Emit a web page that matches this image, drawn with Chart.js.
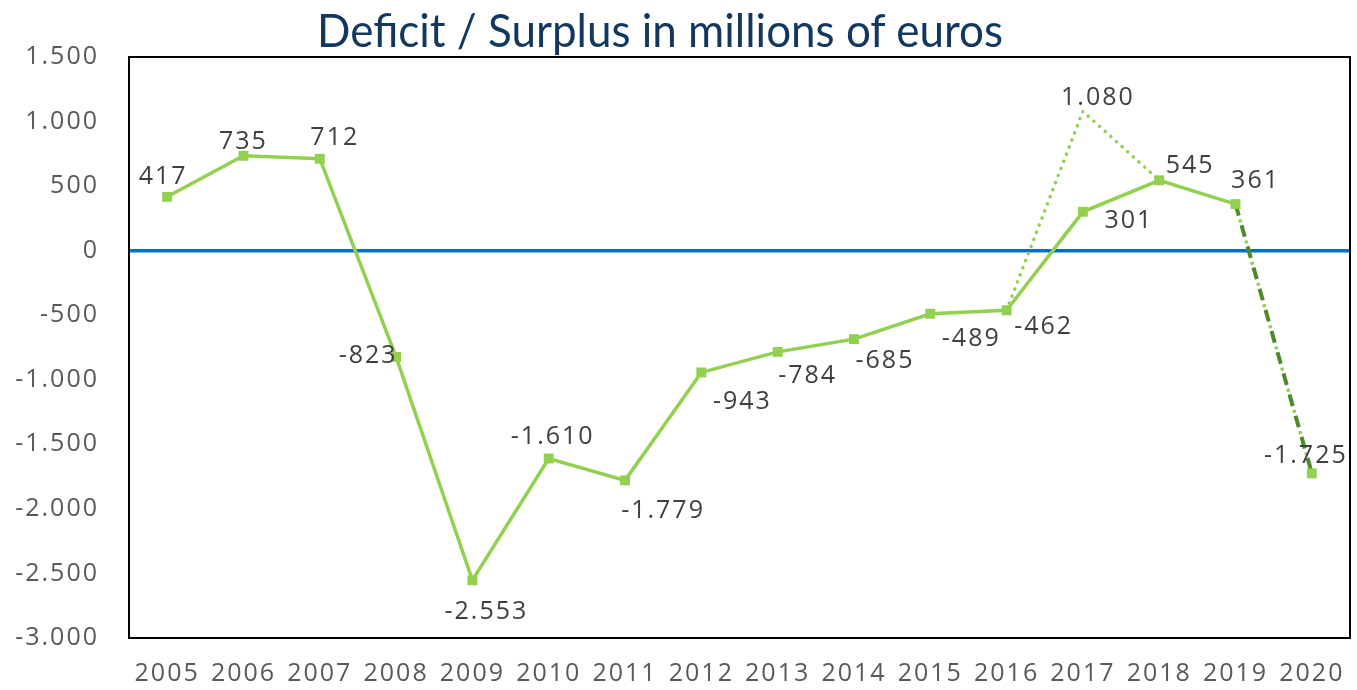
<!DOCTYPE html>
<html>
<head>
<meta charset="utf-8">
<script src="https://cdn.jsdelivr.net/npm/chart.js@4/dist/chart.umd.min.js"></script>
<style>
  html, body { margin: 0; padding: 0; background: #ffffff; }
  #wrap { position: relative; width: 1357px; height: 690px; }
  #title {
    position: absolute; left: 0; top: 2px; white-space: nowrap;
    font-family: Lato, "Open Sans", sans-serif; font-size: 46px; color: #13385F;
    transform-origin: 0 0;
  }
  canvas { position: absolute; left: 0; top: 0; }
</style>
</head>
<body>
<div id="wrap">
  <canvas id="chart" width="1357" height="690"></canvas>
  <div id="title">Deficit / Surplus in millions of euros</div>
</div>
<script>
// Yearly budget balance, millions of euros
const years = ['2005','2006','2007','2008','2009','2010','2011','2012','2013','2014','2015','2016','2017','2018','2019','2020'];
const balance  = [417, 735, 712, -823, -2553, -1610, -1779, -943, -784, -685, -489, -462, 301, 545, 361, null];
const estimate = [null, null, null, null, null, null, null, null, null, null, null, -462, 1080, 545, null, null];
const forecast = [null, null, null, null, null, null, null, null, null, null, null, null, null, null, 361, -1725];

const yMin = -3000, yMax = 1500, yStep = 500;

// where each value label sits relative to its point (dx, dy in px)
const balanceLabelOffsets = [[-4,-20],[0,-14],[15,-21],[-28,-1],[14,32],[4,-22],[38,31],[41,29],[30,24],[31,22],[41,25],[37,17],[46,9],[31,-14],[20,-23],null];
const estimateLabelOffsets = {12: [15,-13]};
const forecastLabelOffsets = {15: [-6,-18]};

const LIGHT = '#92D050';
const DARK = '#4E8A2A';
const TEXT_FONT = '"Open Sans", sans-serif';
const SPACING = '2px';

function fmt(v) {
  const s = Math.abs(v).toString().replace(/\B(?=(\d{3})+(?!\d))/g, '.');
  return (v < 0 ? '-' : '') + s;
}

// fit the heading to its width
(function () {
  const t = document.getElementById('title');
  const w = t.getBoundingClientRect().width;
  const target = 686;
  const sx = target / w;
  t.style.transform = 'scaleX(' + sx + ')';
  t.style.left = (660 - target / 2) + 'px';
})();

const spacing = {
  id: 'spacing',
  beforeLayout(chart) { chart.ctx.letterSpacing = SPACING; },
  beforeDraw(chart) { chart.ctx.letterSpacing = SPACING; }
};

const frame = {
  id: 'frame',
  beforeDatasetsDraw(chart) {
    const { ctx, chartArea: a } = chart;
    ctx.save();
    ctx.strokeStyle = '#000000';
    ctx.lineWidth = 2;
    ctx.strokeRect(a.left, a.top, a.right - a.left, a.bottom - a.top);
    ctx.restore();
  }
};

const valueLabels = {
  id: 'valueLabels',
  afterDatasetsDraw(chart) {
    const ctx = chart.ctx;
    ctx.save();
    ctx.letterSpacing = SPACING;
    ctx.font = '25px ' + TEXT_FONT;
    ctx.fillStyle = '#404040';
    ctx.textAlign = 'center';
    ctx.textBaseline = 'middle';
    chart.data.datasets.forEach((ds, di) => {
      const offs = ds.labelOffsets;
      if (!offs) return;
      const meta = chart.getDatasetMeta(di);
      ds.data.forEach((v, i) => {
        const o = offs[i];
        if (v === null || !o) return;
        const p = meta.data[i];
        ctx.fillText(fmt(v), p.x + o[0], p.y + o[1]);
      });
    });
    ctx.restore();
  }
};

new Chart(document.getElementById('chart'), {
  type: 'line',
  data: {
    labels: years,
    datasets: [
      {
        data: balance,
        labelOffsets: balanceLabelOffsets,
        borderColor: LIGHT, backgroundColor: LIGHT,
        borderWidth: 3.5,
        pointStyle: 'rect', pointRadius: 7, pointBorderWidth: 0,
        spanGaps: false, order: 1
      },
      {
        data: forecast,
        borderColor: LIGHT, borderWidth: 3.5,
        borderDash: [3, 19], borderDashOffset: 6,
        pointRadius: 0, order: 2
      },
      {
        data: forecast,
        labelOffsets: forecastLabelOffsets,
        borderColor: DARK, backgroundColor: LIGHT,
        borderWidth: 4,
        borderDash: [12, 10],
        pointStyle: 'rect', pointRadius: [0, 0, 0, 0, 0, 0, 0, 0, 0, 0, 0, 0, 0, 0, 0, 7],
        pointBorderWidth: 0, order: 3
      },
      {
        data: estimate,
        labelOffsets: estimateLabelOffsets,
        borderColor: LIGHT, borderWidth: 3.5,
        borderDash: [0.1, 7.5], borderCapStyle: 'round',
        pointRadius: 0, order: 4
      }
    ]
  },
  options: {
    responsive: false,
    animation: false,
    events: [],
    layout: { padding: { top: 57, right: 7, left: 0, bottom: 0 } },
    plugins: { legend: { display: false }, tooltip: { enabled: false }, title: { display: false } },
    scales: {
      x: {
        offset: true,
        grid: { display: false, drawTicks: false },
        border: { display: true, color: '#000000', width: 2 },
        ticks: {
          autoSkip: false, maxRotation: 0, padding: 21,
          color: '#595959', font: { family: TEXT_FONT, size: 25 }
        },
        afterFit(s) { s.height = 52; s.paddingLeft = 0; s.paddingRight = 0; }
      },
      y: {
        min: yMin, max: yMax,
        grid: {
          drawTicks: false,
          color: c => (c.tick && c.tick.value === 0 ? '#0070C0' : 'rgba(0,0,0,0)'),
          lineWidth: c => (c.tick && c.tick.value === 0 ? 3.5 : 0)
        },
        border: { display: true, color: '#000000', width: 2 },
        ticks: {
          stepSize: yStep, padding: 30,
          color: '#595959', font: { family: TEXT_FONT, size: 25 },
          callback: v => fmt(v)
        },
        afterFit(s) { s.width = 129; }
      }
    }
  },
  plugins: [spacing, frame, valueLabels]
});
</script>
</body>
</html>
